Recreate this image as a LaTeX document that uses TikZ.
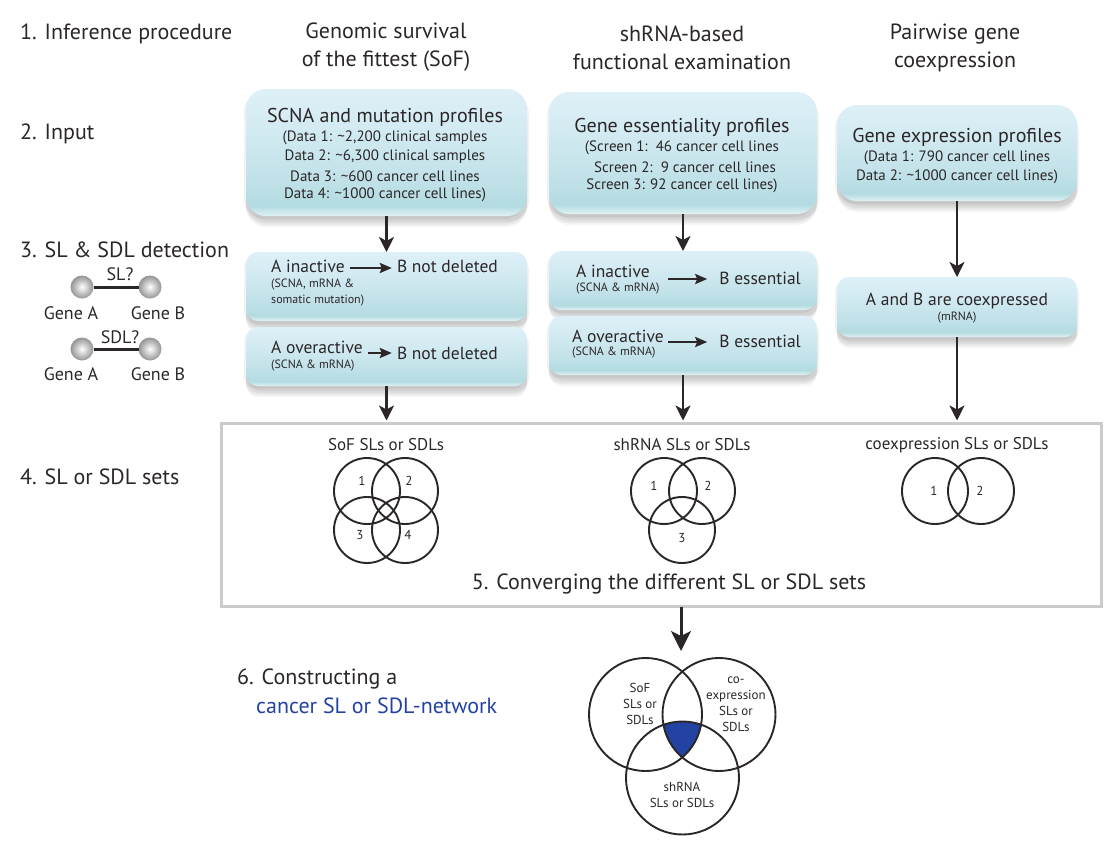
\documentclass[tikz,border=0pt]{standalone}
\usepackage{fontspec}
\setmainfont{PT Sans}
\usetikzlibrary{arrows.meta,shadows}
\definecolor{inkdark}{HTML}{2B2627}
\definecolor{netblue}{HTML}{2343A2}
\definecolor{framegray}{HTML}{C9CBCC}
\pgfdeclareverticalshading{boxshade}{100bp}{
  rgb(0bp)=(0.88,0.95,0.96);
  rgb(25bp)=(0.88,0.95,0.96);
  rgb(29bp)=(0.70,0.86,0.88);
  rgb(38bp)=(0.75,0.88,0.91);
  rgb(60bp)=(0.83,0.92,0.95);
  rgb(75bp)=(0.87,0.94,0.97);
  rgb(100bp)=(0.87,0.94,0.97)}
\tikzset{
  softshadow/.style={
    drop shadow={shadow xshift=0pt,shadow yshift=-11pt,opacity=.04,fill=black},
    drop shadow={shadow xshift=0pt,shadow yshift=-9pt,opacity=.05,fill=black},
    drop shadow={shadow xshift=0pt,shadow yshift=-7pt,opacity=.05,fill=black},
    drop shadow={shadow xshift=2pt,shadow yshift=-5pt,opacity=.05,fill=black},
    drop shadow={shadow xshift=-2pt,shadow yshift=-3pt,opacity=.05,fill=black}},
  profilebox/.style={shading=boxshade,softshadow,rounded corners=20pt,inner sep=0pt,outer sep=0pt,minimum height=#1},
  rulebox/.style={shading=boxshade,softshadow,rounded corners=12pt,inner sep=0pt,outer sep=0pt,minimum height=#1},
  steptext/.style={anchor=west,yshift=-2pt,font=\fontsize{22}{22}\selectfont,text=inkdark,inner sep=0pt},
  headtext/.style={align=center,yshift=-2pt,font=\fontsize{22}{28}\selectfont,text=inkdark,inner sep=0pt},
  titletext/.style={yshift=-2pt,font=\fontsize{20}{20}\selectfont,text=inkdark,inner sep=0pt},
  datatext/.style={yshift=-2pt,font=\fontsize{15}{15}\selectfont,text=inkdark,inner sep=0pt},
  ruletext/.style={font=\fontsize{17.5}{18}\selectfont,text=inkdark,inner sep=0pt},
  subtext/.style={font=\fontsize{12}{12}\selectfont,text=inkdark,inner sep=0pt},
  genetext/.style={font=\fontsize{18}{18}\selectfont,text=inkdark,inner sep=0pt},
  settext/.style={yshift=-1pt,font=\fontsize{17}{17}\selectfont,text=inkdark,inner sep=0pt},
  numtext/.style={font=\fontsize{13}{13}\selectfont,text=inkdark,inner sep=0pt},
  venntext/.style={font=\fontsize{13}{13}\selectfont,text=inkdark,inner sep=0pt},
  setring/.style={circle,draw=inkdark,line width=1.9pt,inner sep=0pt,outer sep=0pt,minimum size=#1},
  geneball/.style={circle,inner color=white,outer color=black!42,inner sep=0pt,outer sep=0pt,minimum size=23pt},
  flowarrow/.style={draw=inkdark,line width=2.4pt,-{Stealth[length=15pt,width=15pt,inset=4pt]}},
  bigarrow/.style={draw=inkdark,line width=3pt,-{Stealth[length=20pt,width=20pt,inset=5pt]}},
  textarrow/.style={draw=inkdark,line width=2.4pt,-{Stealth[length=12pt,width=10pt,inset=2pt]}}
}
\begin{document}
\begin{tikzpicture}[x=1pt,y=-1pt]
\useasboundingbox (0,0) rectangle (1114,852);
\node [steptext] (stepone) at (20,32) {1. Inference procedure};
\node [steptext] (steptwo) at (20,132) {2. Input};
\node [steptext] (stepthree) at (20,248) {3. SL \& SDL detection};
\node [steptext] (stepfour) at (20,475) {4. SL or SDL sets};
\node [steptext] (stepsix) at (237,677) {6. Constructing a};
\node [steptext,text=netblue] (stepnet) at (256,704) {cancer SL or SDL-network};
\node [headtext] (headsof) at (386,45) {Genomic survival\\of the fittest (SoF)};
\node [headtext] (headsh) at (682,46) {shRNA-based\\functional examination};
\node [headtext] (headco) at (955,46) {Pairwise gene\\coexpression};

\node [profilebox=127pt,minimum width=281pt] (scna) at (386.5,152.5) {};
\node [rulebox=69pt,minimum width=281pt] (inactsof) at (386.5,286.5) {};
\node [rulebox=59pt,minimum width=281pt] (oversof) at (386.5,356.5) {};
\node [profilebox=122pt,minimum width=268pt] (essent) at (683,153) {};
\node [rulebox=59pt,minimum width=268pt] (inactsh) at (683,280.5) {};
\node [rulebox=59pt,minimum width=268pt] (oversh) at (683,345.5) {};
\node [profilebox=96pt,minimum width=240pt] (express) at (957,153) {};
\node [rulebox=60pt,minimum width=240pt] (coexp) at (957,307) {};

\node [titletext] (scnatitle) at (385,115) {SCNA and mutation profiles};
\node [datatext] (scnaone) at (385,136) {(Data 1: \textasciitilde2,200 clinical samples};
\node [datatext] (scnatwo) at (385,155) {Data 2: \textasciitilde6,300 clinical samples};
\node [datatext] (scnathree) at (385,174) {Data 3: \textasciitilde600 cancer cell lines};
\node [datatext] (scnafour) at (385,193) {Data 4: \textasciitilde1000 cancer cell lines)};
\node [titletext] (esstitle) at (682,125) {Gene essentiality profiles};
\node [datatext] (essone) at (682,146) {(Screen 1:\ \ 46 cancer cell lines};
\node [datatext] (esstwo) at (685,165) {Screen 2:\ \ 9 cancer cell lines};
\node [datatext] (essthree) at (682,184) {Screen 3: 92 cancer cell lines)};
\node [titletext] (exptitle) at (957,135) {Gene expression profiles};
\node [datatext] (expone) at (957,156) {(Data 1: 790 cancer cell lines};
\node [datatext] (exptwo) at (957,175) {Data 2: \textasciitilde1000 cancer cell lines)};

\node [ruletext,anchor=west] (inasof) at (271,266) {A inactive};
\node [ruletext,anchor=east] (delone) at (498,266) {B not deleted};
\node [subtext,anchor=west] (inasofa) at (271,285) {(SCNA, mRNA \&};
\node [subtext,anchor=west] (inasofb) at (271,301) {somatic mutation)};
\node [ruletext,anchor=west] (ovrsof) at (271,347) {A overactive};
\node [ruletext,anchor=east] (deltwo) at (498,353) {B not deleted};
\node [subtext,anchor=west] (ovrsofa) at (271,366) {(SCNA \& mRNA)};
\node [ruletext,anchor=west] (inash) at (576,271) {A inactive};
\node [ruletext,anchor=east] (essa) at (801,278) {B essential};
\node [subtext,anchor=west] (inasha) at (576,289) {(SCNA \& mRNA)};
\node [ruletext,anchor=west] (ovrsh) at (572,336) {A overactive};
\node [ruletext,anchor=east] (essb) at (801,341) {B essential};
\node [subtext,anchor=west] (ovrsha) at (572,353) {(SCNA \& mRNA)};
\node [ruletext] (coexptext) at (957,301) {A and B are coexpressed};
\node [subtext] (coexpsub) at (957,318) {(mRNA)};

\coordinate (arrowa) at (350,268);
\coordinate (arrowb) at (368,353);
\coordinate (arrowc) at (668,279);
\coordinate (arrowd) at (668,342);
\draw [textarrow,shorten >=5pt] (arrowa) -- (arrowa -| delone.west);
\draw [textarrow,shorten >=5pt] (arrowb) -- (arrowb -| deltwo.west);
\draw [textarrow,shorten >=12pt] (arrowc) -- (arrowc -| essa.west);
\draw [textarrow,shorten >=12pt] (arrowd) -- (arrowd -| essb.west);

\node [geneball] (ballA) at (82,287) {};
\node [geneball] (ballB) at (150,287) {};
\node [geneball] (ballC) at (82,349) {};
\node [geneball] (ballD) at (150,349) {};
\draw [inkdark,line width=3pt] (ballA) -- (ballB);
\draw [inkdark,line width=3pt] (ballC) -- (ballD);
\node [genetext] (slq) at (120,274) {SL?};
\node [genetext] (sdlq) at (120,337) {SDL?};
\node [genetext] (genea) at (71,313) {Gene A};
\node [genetext] (geneb) at (158,313) {Gene B};
\node [genetext] (genec) at (71,374) {Gene A};
\node [genetext] (gened) at (158,374) {Gene B};

\node [draw=framegray,line width=3pt,inner sep=0pt,outer sep=0pt,minimum width=880pt,minimum height=183pt] (frame) at (661,515) {};
\draw [flowarrow] (scna) -- (inactsof);
\draw [flowarrow] (essent) -- (inactsh);
\draw [flowarrow] (express) -- (coexp);
\draw [flowarrow,shorten >=3pt] (oversof) -- (oversof |- frame.north);
\draw [flowarrow,shorten >=3pt] (oversh) -- (oversh |- frame.north);
\draw [flowarrow,shorten >=3pt] (coexp) -- (coexp |- frame.north);

\node [settext] (soflabel) at (386,444) {SoF SLs or SDLs};
\node [settext] (shlabel) at (682,444) {shRNA SLs or SDLs};
\node [settext] (colabel) at (957,444) {coexpression SLs or SDLs};
\node [setring=66pt] (sofa) at (367,491) {};
\node [setring=66pt] (sofb) at (405,491) {};
\node [setring=66pt] (sofc) at (367,530) {};
\node [setring=66pt] (sofd) at (405,530) {};
\node [numtext] (sofaid) at (362,481) {1};
\node [numtext] (sofbid) at (409,481) {2};
\node [numtext] (sofcid) at (360,535) {3};
\node [numtext] (sofdid) at (408,535) {4};
\node [setring=66pt] (sha) at (664,491) {};
\node [setring=66pt] (shb) at (702,491) {};
\node [setring=66pt] (shc) at (682,530) {};
\node [numtext] (shaid) at (654,486) {1};
\node [numtext] (shbid) at (708,486) {2};
\node [numtext] (shcid) at (682,538) {3};
\node [setring=66pt] (coa) at (935,491) {};
\node [setring=66pt] (cob) at (981,491) {};
\node [numtext] (coaid) at (934,491) {1};
\node [numtext] (cobid) at (980,491) {2};
\node [steptext,anchor=center] (stepfive) at (669,582) {5. Converging the different SL or SDL sets};

\begin{scope}
\clip (645.5,714.5) circle (56.5pt);
\clip (719,714.5) circle (56.5pt);
\fill [netblue] (682.5,778) circle (56.5pt);
\end{scope}
\node [setring=113pt] (bigsof) at (645.5,714.5) {};
\node [setring=113pt] (bigco) at (719,714.5) {};
\node [setring=113pt] (bigsh) at (682.5,778) {};
\coordinate (bigtip) at (681,651);
\draw [bigarrow] (frame.south -| bigtip) -- (bigtip);
\node [venntext,align=center] (bigsoftext) at (640,704) {SoF\\[3pt]SLs or\\[3pt]SDLs};
\node [venntext,align=center] (bigcotext) at (736,704) {co-\\[3pt]expression\\[3pt]SLs or\\[3pt]SDLs};
\node [venntext,align=center] (bigshtext) at (682,795) {shRNA\\[3pt]SLs or SDLs};
\end{tikzpicture}
\end{document}
